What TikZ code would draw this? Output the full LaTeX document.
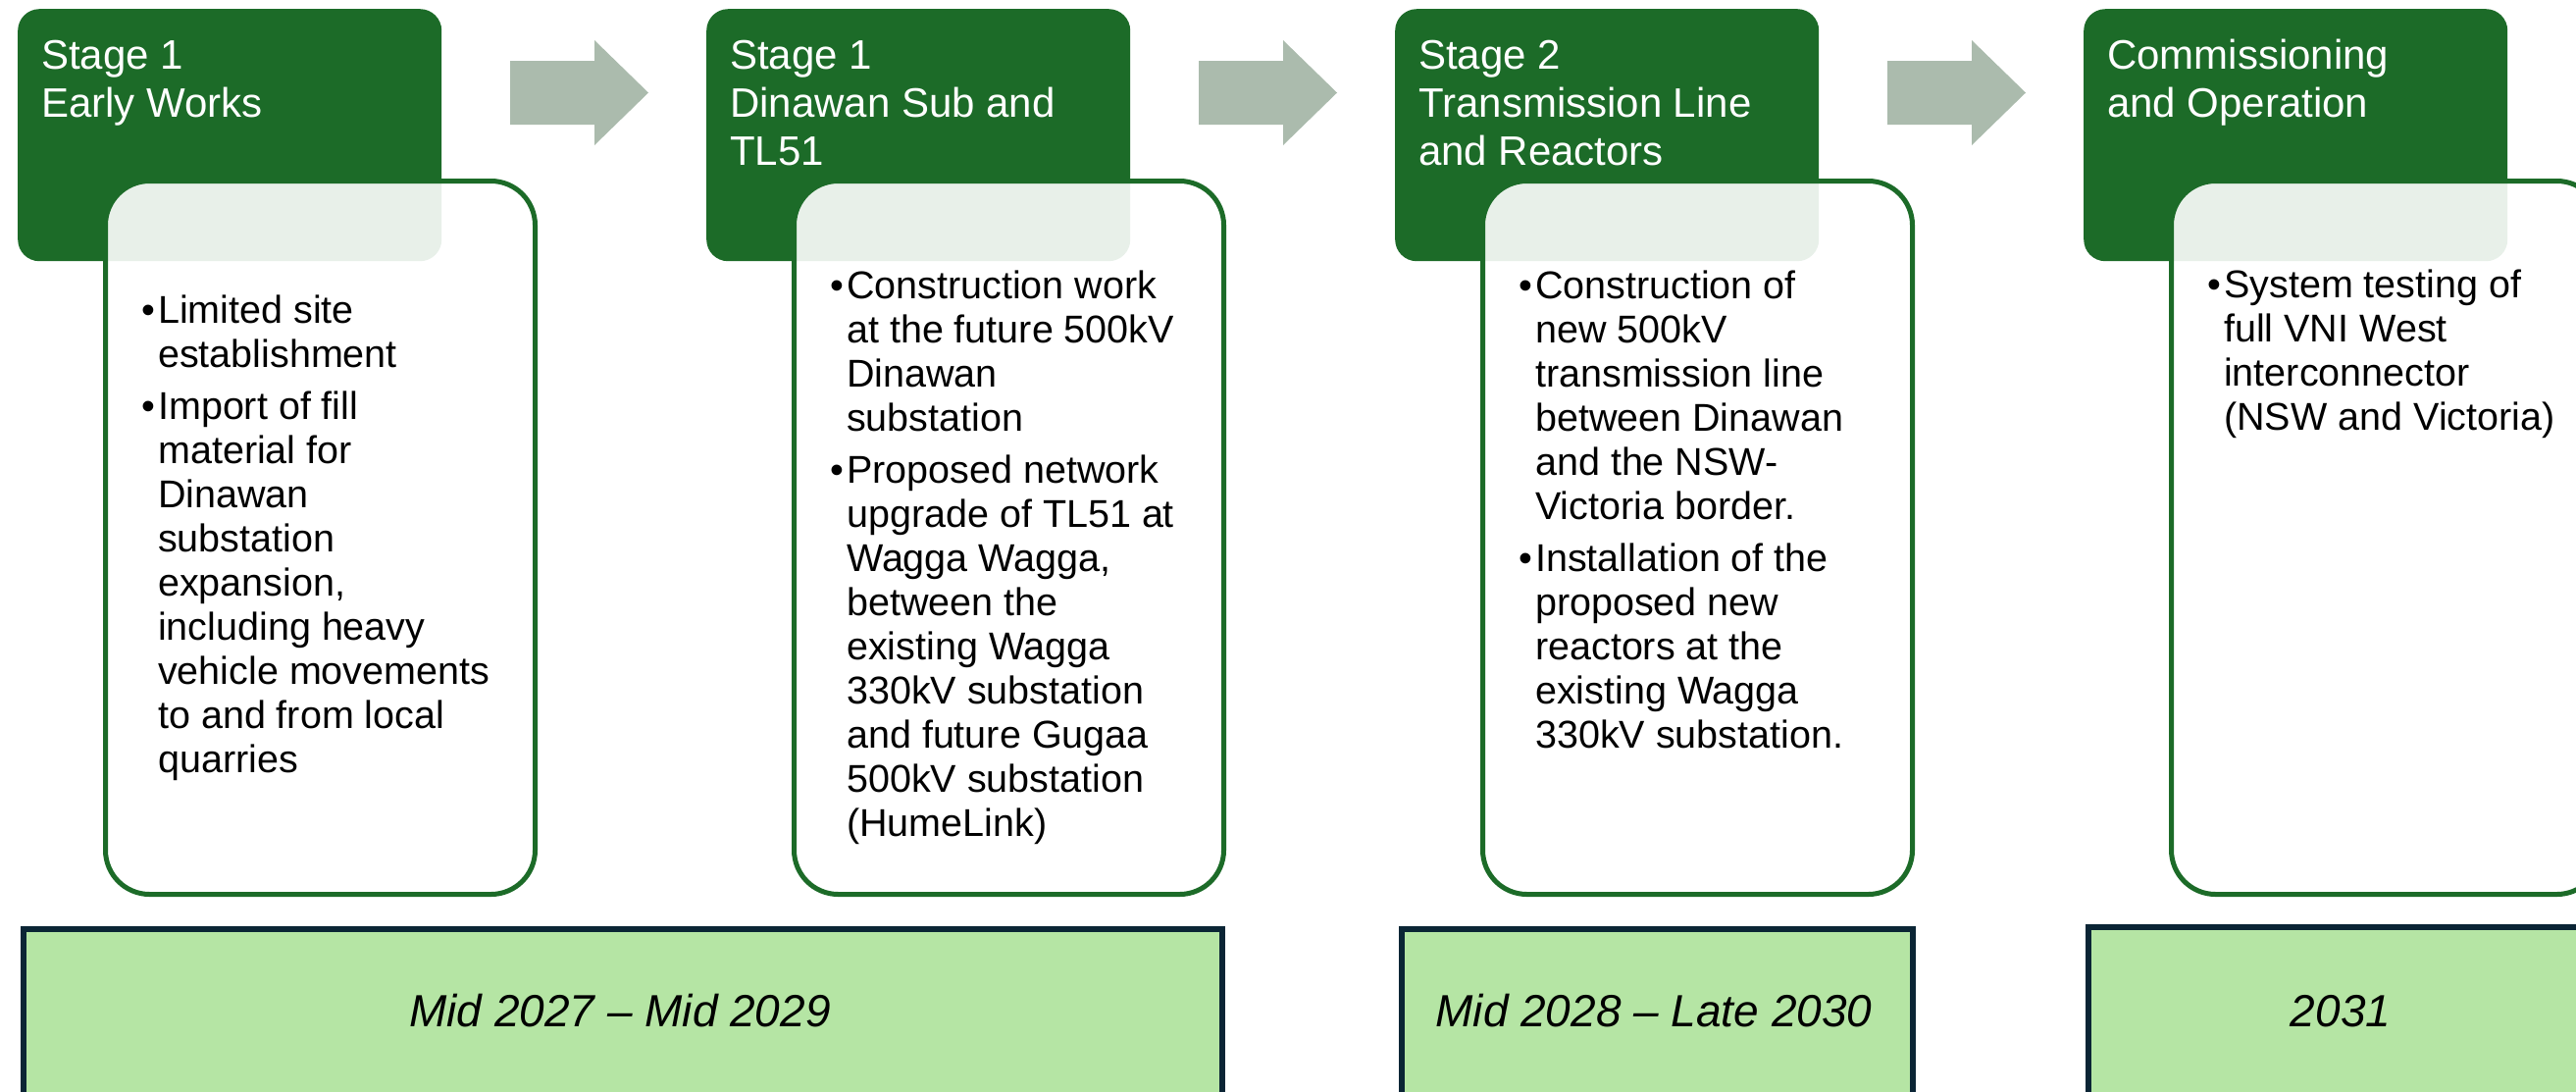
\documentclass[tikz,border=0pt]{standalone}
\usepackage{fontspec}
\setmainfont{Liberation Sans}
\definecolor{gr}{HTML}{1C6B28}
\definecolor{arr}{HTML}{ABBBAD}
\definecolor{lgr}{HTML}{B5E5A4}
\definecolor{navy}{HTML}{0B2535}
\newcommand\myb{\makebox[17pt][l]{•}}
\newcommand\myi{\hspace*{17pt}}
\begin{document}
\begin{tikzpicture}[x=1pt,y=-1pt,
 gbox/.style={fill=gr, rounded corners=22pt, inner sep=0pt, anchor=north west, minimum width=432pt, minimum height=257pt},
 wbox/.style={draw=gr, line width=5pt, fill=white, fill opacity=0.9, rounded corners=45pt, inner sep=0pt, anchor=north west, minimum width=438pt, minimum height=727pt},
 datebox/.style={draw=navy, line width=6pt, fill=lgr, inner sep=0pt, anchor=north west, minimum height=300pt},
 head/.style={anchor=base west, inner sep=0pt, text=white, font=\fontsize{42}{49}\selectfont},
 body/.style={anchor=base west, inner sep=0pt, font=\fontsize{39.5}{45}\selectfont},
 datetxt/.style={anchor=base, inner sep=0pt, font=\fontsize{46}{50}\selectfont\itshape},
 blockarrow/.style={fill=arr}]
\useasboundingbox (0,0) rectangle (2626,1112);
\clip (0,0) rectangle (2626,1112);
\fill[white] (0,0) rectangle (2626,1112);
% block arrows
\foreach \x in {520,1222,1924}{
  \fill[blockarrow] (\x,62) -- (\x+86,62) -- (\x+86,41) -- (\x+141,94.5) -- (\x+86,148) -- (\x+86,127) -- (\x,127) -- cycle;
}
% green header boxes
\node[gbox] (g1) at (18,9) {};
\node[gbox] (g2) at (720,9) {};
\node[gbox] (g3) at (1422,9) {};
\node[gbox] (g4) at (2124,9) {};
\node[head] (h1) at (42,70) {\parbox[t]{420pt}{Stage 1\\Early Works}};
\node[head] (h2) at (744,70) {\parbox[t]{420pt}{Stage 1\\Dinawan Sub and\\TL51}};
\node[head] (h3) at (1446,70) {\parbox[t]{420pt}{Stage 2\\Transmission Line\\and Reactors}};
\node[head] (h4) at (2148,70) {\parbox[t]{420pt}{Commissioning\\and Operation}};
% white content boxes
\node[wbox] (w1) at (105,182) {};
\node[wbox] (w2) at (807,182) {};
\node[wbox] (w3) at (1509,182) {};
\node[wbox] (w4) at (2211,182) {};
\node[body] (t1) at (144,329) {\parbox[t]{450pt}{%
\myb Limited site\\
\myi establishment\\[8pt]
\myb Import of fill\\
\myi material for\\
\myi Dinawan\\
\myi substation\\
\myi expansion,\\
\myi including heavy\\
\myi vehicle movements\\
\myi to and from local\\
\myi quarries}};
\node[body] (t2) at (846,304) {\parbox[t]{450pt}{%
\myb Construction work\\
\myi at the future 500kV\\
\myi Dinawan\\
\myi substation\\[8pt]
\myb Proposed network\\
\myi upgrade of TL51 at\\
\myi Wagga Wagga,\\
\myi between the\\
\myi existing Wagga\\
\myi 330kV substation\\
\myi and future Gugaa\\
\myi 500kV substation\\
\myi (HumeLink)}};
\node[body] (t3) at (1548,304) {\parbox[t]{450pt}{%
\myb Construction of\\
\myi new 500kV\\
\myi transmission line\\
\myi between Dinawan\\
\myi and the NSW-\\
\myi Victoria border.\\[8pt]
\myb Installation of the\\
\myi proposed new\\
\myi reactors at the\\
\myi existing Wagga\\
\myi 330kV substation.}};
\node[body] (t4) at (2250,303) {\parbox[t]{450pt}{%
\myb System testing of\\
\myi full VNI West\\
\myi interconnector\\
\myi (NSW and Victoria)}};
% date boxes
\node[datebox, minimum width=1222pt] (d1) at (21,944) {};
\node[datebox, minimum width=521pt] (d2) at (1426,944) {};
\node[datebox, minimum width=560pt] (d3) at (2126,942) {};
\node[datetxt] (l1) at (632,1046) {Mid 2027 – Mid 2029};
\node[datetxt] (l2) at (1686,1046) {Mid 2028 – Late 2030};
\node[datetxt] (l3) at (2386,1046) {2031};
\end{tikzpicture}
\end{document}
